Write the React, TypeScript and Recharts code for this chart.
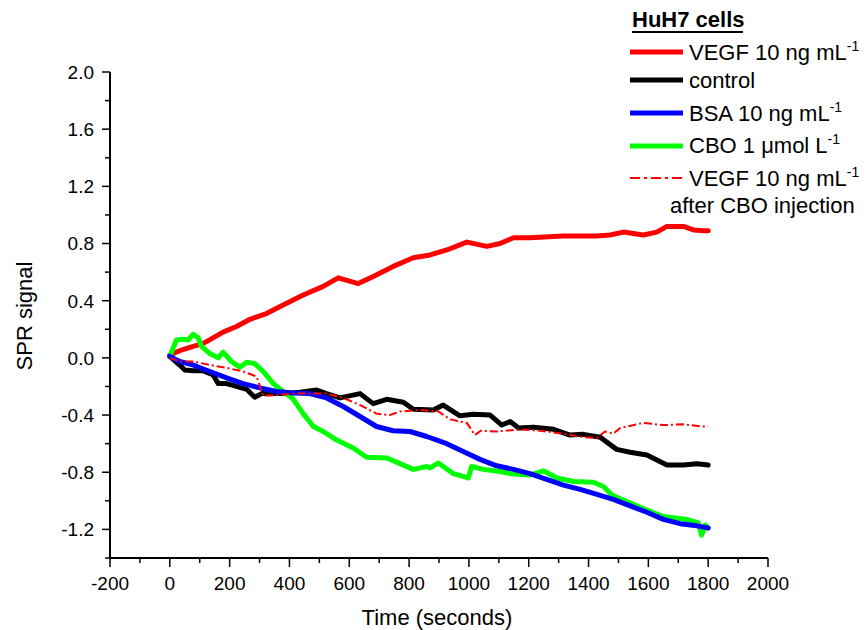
import React from 'react';
import { LineChart, Line, XAxis, YAxis, Customized } from 'recharts';

// time (s) and SPR signal
const vegfTime = [0, 33, 78, 111, 178, 223, 268, 323, 379, 446, 513, 563, 630, 680, 747, 814, 870, 926, 993, 1060, 1104, 1149, 1204, 1316, 1428, 1472, 1517, 1583, 1628, 1662, 1717, 1751, 1784, 1800];
const vegfSignal = [0.02, 0.05, 0.08, 0.1, 0.18, 0.22, 0.27, 0.31, 0.37, 0.44, 0.5, 0.56, 0.52, 0.57, 0.64, 0.7, 0.72, 0.755, 0.81, 0.78, 0.8, 0.84, 0.84, 0.853, 0.853, 0.86, 0.88, 0.86, 0.88, 0.92, 0.92, 0.895, 0.89, 0.89];

const controlTime = [0, 33, 50, 78, 111, 145, 162, 190, 223, 257, 284, 307, 341, 379, 435, 491, 524, 569, 636, 680, 725, 781, 814, 881, 914, 970, 1015, 1071, 1110, 1138, 1166, 1216, 1283, 1338, 1383, 1439, 1494, 1539, 1595, 1662, 1717, 1762, 1800];
const controlSignal = [0.01, -0.05, -0.085, -0.09, -0.09, -0.12, -0.18, -0.18, -0.2, -0.22, -0.275, -0.25, -0.25, -0.25, -0.24, -0.225, -0.25, -0.28, -0.25, -0.32, -0.29, -0.31, -0.36, -0.365, -0.33, -0.405, -0.395, -0.4, -0.47, -0.445, -0.49, -0.485, -0.5, -0.54, -0.535, -0.555, -0.64, -0.66, -0.68, -0.75, -0.75, -0.74, -0.75];

const bsaTime = [0, 33, 78, 134, 190, 245, 301, 357, 413, 468, 524, 580, 636, 691, 747, 803, 859, 926, 981, 1037, 1093, 1149, 1204, 1260, 1316, 1372, 1428, 1483, 1539, 1595, 1650, 1706, 1762, 1800];
const bsaSignal = [0.01, -0.025, -0.05, -0.095, -0.14, -0.18, -0.21, -0.235, -0.245, -0.25, -0.28, -0.34, -0.41, -0.48, -0.51, -0.515, -0.55, -0.6, -0.655, -0.71, -0.755, -0.78, -0.81, -0.85, -0.89, -0.92, -0.955, -0.99, -1.035, -1.08, -1.13, -1.16, -1.175, -1.19];

const cboTime = [0, 22, 45, 61, 78, 95, 106, 134, 162, 178, 206, 234, 257, 284, 312, 346, 379, 413, 446, 480, 513, 558, 613, 658, 725, 770, 814, 859, 870, 898, 948, 998, 1009, 1048, 1104, 1138, 1204, 1249, 1294, 1350, 1416, 1450, 1478, 1539, 1595, 1650, 1728, 1767, 1778, 1790, 1800];
const cboSignal = [0.01, 0.125, 0.13, 0.125, 0.165, 0.14, 0.08, 0.03, 0.0, 0.04, -0.025, -0.065, -0.03, -0.04, -0.095, -0.18, -0.235, -0.29, -0.39, -0.48, -0.515, -0.575, -0.63, -0.695, -0.7, -0.74, -0.78, -0.76, -0.77, -0.735, -0.81, -0.84, -0.76, -0.78, -0.795, -0.81, -0.82, -0.79, -0.84, -0.865, -0.87, -0.9, -0.96, -1.015, -1.065, -1.11, -1.13, -1.155, -1.24, -1.17, -1.19];

const afterCboTime = [0, 33, 78, 134, 190, 245, 290, 312, 357, 413, 468, 524, 580, 636, 691, 736, 770, 836, 898, 937, 993, 1020, 1040, 1093, 1171, 1238, 1316, 1383, 1428, 1455, 1483, 1506, 1583, 1650, 1717, 1778, 1800];
const afterCboSignal = [0, -0.025, -0.025, -0.05, -0.07, -0.095, -0.13, -0.265, -0.26, -0.25, -0.25, -0.25, -0.28, -0.33, -0.39, -0.4, -0.375, -0.365, -0.375, -0.43, -0.455, -0.54, -0.51, -0.515, -0.5, -0.51, -0.53, -0.555, -0.56, -0.515, -0.53, -0.49, -0.455, -0.47, -0.465, -0.48, -0.48];

const xTicks = [-200, -100, 0, 100, 200, 300, 400, 500, 600, 700, 800, 900, 1000, 1100, 1200, 1300, 1400, 1500, 1600, 1700, 1800, 1900, 2000];
const xLabelled = [-200, 0, 200, 400, 600, 800, 1000, 1200, 1400, 1600, 1800, 2000];
const yTicks = [-1.4, -1.2, -1.0, -0.8, -0.6, -0.4, -0.2, 0, 0.2, 0.4, 0.6, 0.8, 1.0, 1.2, 1.4, 1.6, 1.8, 2.0];
const yLabelled = [-1.2, -0.8, -0.4, 0, 0.4, 0.8, 1.2, 1.6, 2.0];

const toPoints = (t: number[], v: number[]) => t.map((time, i) => ({ t: time, v: v[i] }));

const FONT = "'Liberation Sans', Arial, sans-serif";

const isIn = (list: number[], val: number) => list.some((l) => Math.abs(l - val) < 1e-6);

const YTick = (props: any) => {
  const { x, y, payload } = props;
  const major = isIn(yLabelled, payload.value);
  return (
    <g>
      <line x1={x - (major ? 8 : 5)} x2={x} y1={y} y2={y} stroke="#000" strokeWidth={1.5} />
      {major && (
        <text x={x - 16} y={y} dy="0.36em" textAnchor="end" fontSize={19} fontFamily={FONT} fill="#000">
          {payload.value.toFixed(1)}
        </text>
      )}
    </g>
  );
};

const XTick = (props: any) => {
  const { x, y, payload } = props;
  const major = isIn(xLabelled, payload.value);
  return (
    <g>
      <line x1={x} x2={x} y1={y} y2={y + (major ? 9 : 5)} stroke="#000" strokeWidth={1.5} />
      {major && (
        <text x={x} y={y + 32} textAnchor="middle" fontSize={19} fontFamily={FONT} fill="#000">
          {payload.value}
        </text>
      )}
    </g>
  );
};

const legendRows = [
  { label: 'VEGF 10 ng mL', sup: '-1', color: '#ff0000', dash: undefined, width: 5, lineY: 52, textY: 60 },
  { label: 'control', sup: '', color: '#000000', dash: undefined, width: 5, lineY: 80, textY: 88 },
  { label: 'BSA 10 ng mL', sup: '-1', color: '#0000ff', dash: undefined, width: 5, lineY: 113, textY: 121 },
  { label: 'CBO 1 \u03bcmol L', sup: '-1', color: '#00ff00', dash: undefined, width: 5, lineY: 146, textY: 153 },
  { label: 'VEGF 10 ng mL', sup: '-1', color: '#ff0000', dash: '10 4 3 4', width: 2, lineY: 178, textY: 186 },
];

const Overlay = () => (
  <g fontFamily={FONT} fill="#000">
    <text x={632} y={27} fontSize={22} fontWeight="bold">HuH7 cells</text>
    <line x1={632} x2={743} y1={32} y2={32} stroke="#000" strokeWidth={2} />
    {legendRows.map((r, i) => (
      <g key={i}>
        <line x1={630} x2={683} y1={r.lineY} y2={r.lineY} stroke={r.color} strokeWidth={r.width} strokeDasharray={r.dash} />
        <text x={689} y={r.textY} fontSize={22}>
          {r.label}
          {r.sup && <tspan dy={-9} fontSize={14}>{r.sup}</tspan>}
        </text>
      </g>
    ))}
    <text x={670} y={213} fontSize={22}>after CBO injection</text>
    <text x={437} y={625} fontSize={22} textAnchor="middle">Time (seconds)</text>
    <text x={32} y={316} fontSize={22} textAnchor="middle" transform="rotate(-90 32 316)">SPR signal</text>
  </g>
);

export default function App() {
  return (
    <div style={{ position: 'absolute', left: 0, top: 0, background: '#fff' }}>
      <LineChart width={866} height={630} margin={{ top: 72, right: 98, left: 0, bottom: 0 }}>
        <XAxis
          dataKey="t"
          type="number"
          domain={[-200, 2000]}
          ticks={xTicks}
          interval={0}
          allowDataOverflow
          height={72}
          tickLine={false}
          tickSize={0}
          tickMargin={0}
          axisLine={{ stroke: '#000', strokeWidth: 2 }}
          tick={<XTick />}
        />
        <YAxis
          dataKey="v"
          type="number"
          domain={[-1.4, 2.0]}
          ticks={yTicks}
          interval={0}
          allowDataOverflow
          width={110}
          tickLine={false}
          tickSize={0}
          tickMargin={0}
          axisLine={{ stroke: '#000', strokeWidth: 2 }}
          tick={<YTick />}
        />
        <Line data={toPoints(vegfTime, vegfSignal)} dataKey="v" type="linear" stroke="#ff0000" strokeWidth={5} strokeLinejoin="round" strokeLinecap="round" dot={false} isAnimationActive={false} />
        <Line data={toPoints(controlTime, controlSignal)} dataKey="v" type="linear" stroke="#000000" strokeWidth={5} strokeLinejoin="round" strokeLinecap="round" dot={false} isAnimationActive={false} />
        <Line data={toPoints(cboTime, cboSignal)} dataKey="v" type="linear" stroke="#00ff00" strokeWidth={5} strokeLinejoin="round" strokeLinecap="round" dot={false} isAnimationActive={false} />
        <Line data={toPoints(bsaTime, bsaSignal)} dataKey="v" type="linear" stroke="#0000ff" strokeWidth={5} strokeLinejoin="round" strokeLinecap="round" dot={false} isAnimationActive={false} />
        <Line data={toPoints(afterCboTime, afterCboSignal)} dataKey="v" type="linear" stroke="#ff0000" strokeWidth={2} strokeDasharray="8 3 2 3" dot={false} isAnimationActive={false} />
        <Customized component={Overlay} />
      </LineChart>
    </div>
  );
}
